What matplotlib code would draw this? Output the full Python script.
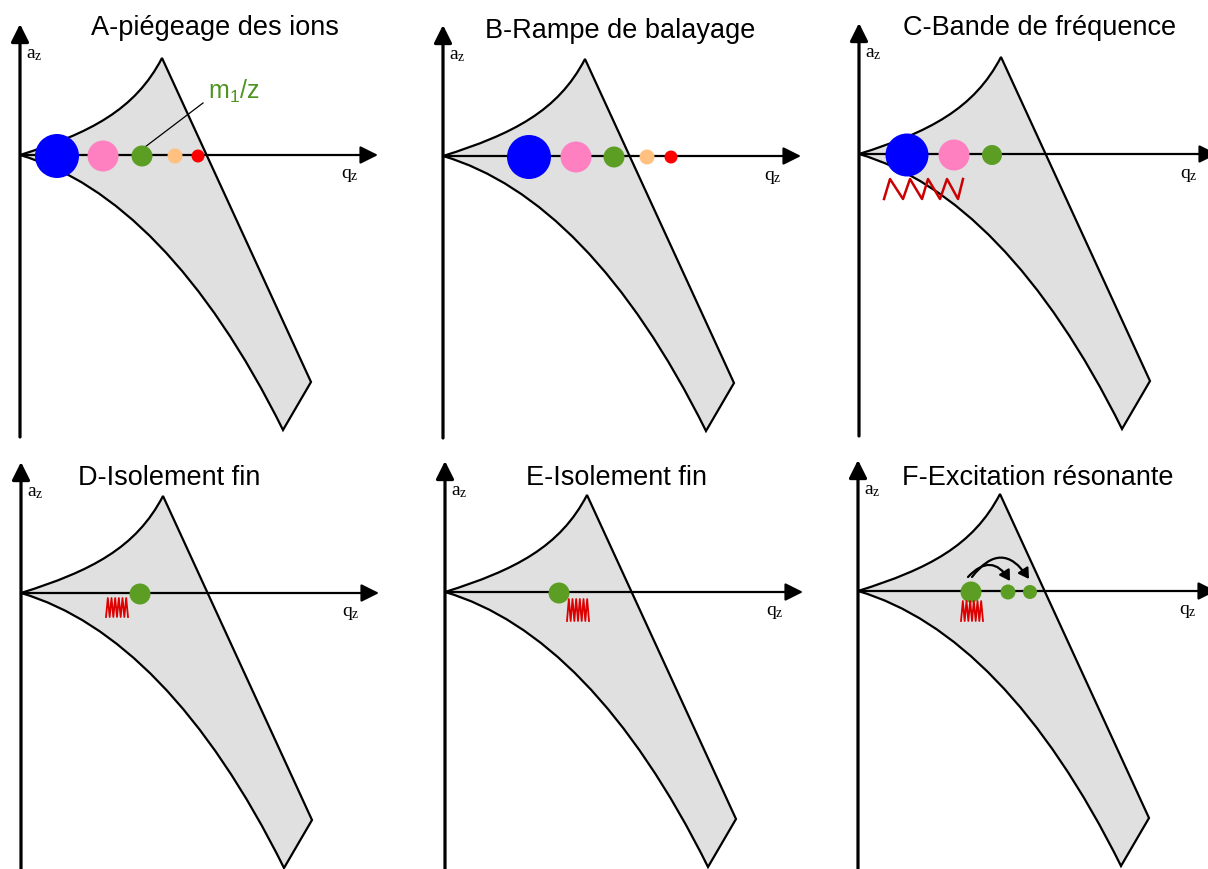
import matplotlib
matplotlib.use('Agg')
import matplotlib.pyplot as plt
from matplotlib.path import Path
from matplotlib.patches import PathPatch, Circle, FancyArrowPatch

plt.rcParams['font.family'] = ['Liberation Sans', 'DejaVu Sans']
plt.rcParams['mathtext.default'] = 'regular'

W, H = 1208, 870

# panels: title, origin (pixels in the figure), title offset from origin
titles = ['A-piégeage des ions', 'B-Rampe de balayage', 'C-Bande de fréquence',
          'D-Isolement fin', 'E-Isolement fin', 'F-Excitation résonante']
origins = [(20, 156), (443, 157), (859, 155), (21, 594), (445, 593), (858, 592)]
title_pos = [(195, 128), (177, 126), (181, 127), (148, 116), (171, 115), (180, 114)]

# ions on the q axis: q position, radius, colour
blue, pink, green, orange, red = '#0000ff', '#ff80c0', '#5c9e24', '#ffc080', '#ff0000'
ions_q = [[37, 83, 122, 155, 178],
          [86, 133, 171, 204, 228],
          [48, 95, 133],
          [119],
          [114],
          [113, 150, 172]]
ions_r = [[22, 15.5, 10.5, 7.5, 6.5],
          [22, 15.5, 10.5, 7.5, 6.5],
          [21.5, 15.5, 10],
          [10.5],
          [10.5],
          [10.5, 7.5, 7]]
ions_c = [[blue, pink, green, orange, red],
          [blue, pink, green, orange, red],
          [blue, pink, green],
          [green],
          [green],
          [green, green, green]]

# stability region (q, a) : cubic bezier sides + straight edges
upper = [(0, 0), (70, 22), (115, 45), (142, 97)]
right_edge = [(142, 97), (291, -227), (263, -275)]
lower = [(263, -275), (185, -118), (95, -28), (0, 0)]

# excitation (red zigzag): panel index -> (q list, a list)
zig_wide_q = [25, 31, 44, 51, 63, 69, 81, 88, 99, 104]
zig_wide_a = [-45, -25, -45, -25, -45, -25, -45, -25, -45, -25]
zig_small = {3: (85, 107, -24, -5), 4: (122, 144, -29, -7), 5: (103, 125, -30, -10)}

fig = plt.figure(figsize=(W / 100, H / 100), dpi=100)

for i in range(6):
    ox, oy = origins[i]
    x0, x1, y0, y1 = -30, 380, -300, 150
    ax = fig.add_axes([(ox + x0) / W, (H - oy + y0) / H, (x1 - x0) / W, (y1 - y0) / H])
    ax.set_xlim(x0, x1)
    ax.set_ylim(y0, y1)
    ax.set_axis_off()

    verts = upper + right_edge[1:] + lower[1:]
    codes = [Path.MOVETO, Path.CURVE4, Path.CURVE4, Path.CURVE4,
             Path.LINETO, Path.LINETO,
             Path.CURVE4, Path.CURVE4, Path.CURVE4]
    ax.add_patch(PathPatch(Path(verts, codes), fc='#e0e0e0', ec='black', lw=1.6,
                           joinstyle='miter', clip_on=False, zorder=1))

    # axes with arrows
    ax.annotate('', xy=(0, 131), xytext=(0, -282),
                arrowprops=dict(arrowstyle='-|>,head_length=0.4,head_width=0.2', lw=2.3,
                                color='black', mutation_scale=27, shrinkA=0, shrinkB=0),
                annotation_clip=False, zorder=3)
    ax.annotate('', xy=(358, 0), xytext=(0, 0),
                arrowprops=dict(arrowstyle='-|>,head_length=0.4,head_width=0.2', lw=1.6,
                                color='black', mutation_scale=27, shrinkA=0, shrinkB=0),
                annotation_clip=False, zorder=3)
    ax.text(14, 101, r'a$_z$', family='Liberation Serif', fontsize=14,
            ha='center', va='center')
    ax.text(330, -20, r'q$_z$', family='Liberation Serif', fontsize=14,
            ha='center', va='center')
    ax.text(title_pos[i][0], title_pos[i][1], titles[i], fontsize=19.5,
            ha='center', va='center')

    for q, r, c in zip(ions_q[i], ions_r[i], ions_c[i]):
        ax.add_patch(Circle((q, -1), r, fc=c, ec='none', clip_on=False, zorder=4))

    if i == 2:
        ax.plot(zig_wide_q, zig_wide_a, color='#cc0000', lw=1.8, clip_on=False, zorder=5)
    if i in zig_small:
        qa, qb, aa, ab = zig_small[i]
        n = 12
        zq = [qa + (qb - qa) * k / n for k in range(n + 1)]
        za = [aa if k % 2 == 0 else ab for k in range(n + 1)]
        ax.plot(zq, za, color='#dd0000', lw=1.3, clip_on=False, zorder=5)

    if i == 0:
        ax.plot([125, 183], [8, 52], color='black', lw=0.9, zorder=2)
        ax.text(188, 65, r'm$_1$/z', color='#4f9420', fontsize=18, ha='left', va='center')

    if i == 5:
        for start, end, rad in [((110, 14), (152, 10), -0.65), ((114, 14), (171, 12), -0.7)]:
            ax.add_patch(FancyArrowPatch(start, end, connectionstyle='arc3,rad=%s' % rad,
                                         arrowstyle='-|>,head_length=0.5,head_width=0.3',
                                         mutation_scale=12, lw=1.6, color='black',
                                         shrinkA=0, shrinkB=0, clip_on=False, zorder=6))

fig.savefig('out.png', dpi=100)
